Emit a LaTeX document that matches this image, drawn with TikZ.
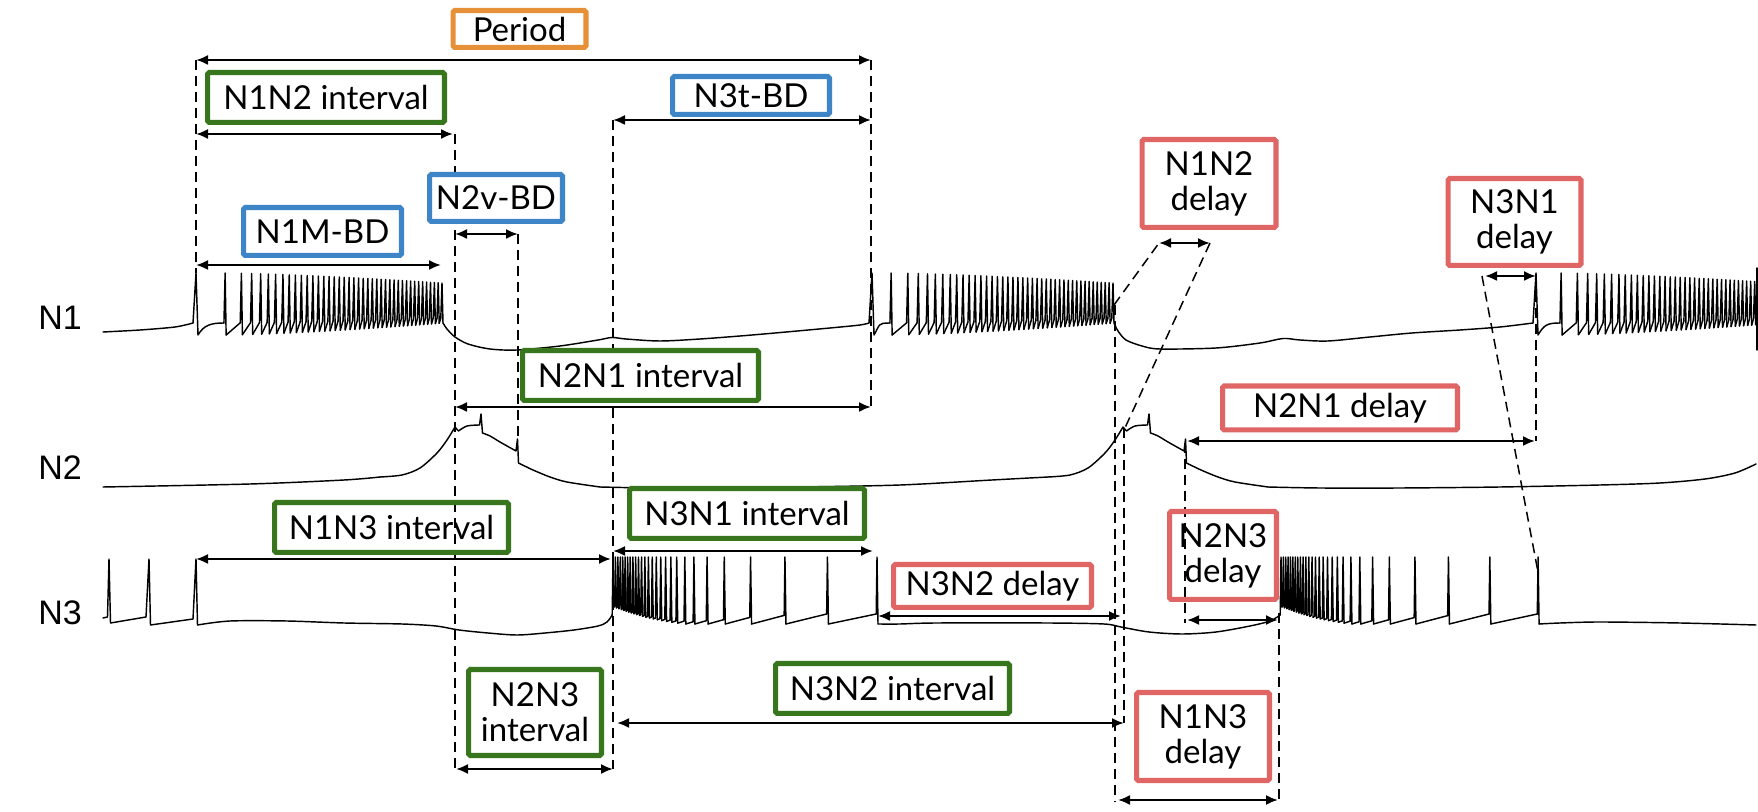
\documentclass[tikz,border=0pt]{standalone}
\usepackage{fontspec}
\setmainfont{Lato}
\newfontfamily\sanslabel{Liberation Sans}
\usetikzlibrary{arrows.meta}
\definecolor{grn}{HTML}{38761D}
\definecolor{blu}{HTML}{3D85C6}
\definecolor{salmon}{HTML}{E06666}
\definecolor{org}{HTML}{E69138}
\newcommand{\boxfont}{\fontsize{16.5pt}{17.5pt}\selectfont}
\newcommand{\chanfont}{\sanslabel\fontsize{17pt}{19pt}\selectfont}
\tikzset{
    trace/.style={line width=0.72pt, line join=round, line cap=round},
    guide/.style={line width=0.75pt, dash pattern=on 5pt off 3pt},
    span/.style={line width=1.05pt, arrows={Latex[length=6pt,width=5pt]-Latex[length=6pt,width=5pt]}},
    box/.style={draw=#1, line width=2.6pt, rounded corners=0.8pt, fill=white, inner sep=0pt, align=center, font=\boxfont},
    boxwh/.style 2 args={minimum width={#1*0.5pt-2.6pt}, minimum height={#2*0.5pt-2.6pt}},
    chan/.style={font=\chanfont, inner sep=0pt},
  }
% N1 burst: onset spike, start of train, length of train, last spike index
\newcommand{\nonetrain}[4]{%
  \draw[trace] (#1-3,323) -- (#1,273) -- (#1+2,335) .. controls (#1+8,325) and (#2-14,323) .. (#2-1.2,323);
  \foreach \k in {0,...,#4}{
    \pgfmathsetmacro\xs{#2+#3*(max(\k,0.001)/40)^0.7}
    \pgfmathsetmacro\xn{#2+#3*((\k+1)/40)^0.7}
    \pgfmathsetmacro\ytop{273+10*\k/40}
    \pgfmathsetmacro\ypre{323-5*\k/40}
    \pgfmathsetmacro\yprn{323-5*(\k+1)/40}
    \pgfmathsetmacro\ytro{335-12*\k/40}
    \draw[trace] (\xs-1.2,\ypre) -- (\xs,\ytop) -- (\xs+1,\ytro);
    \ifnum\k<#4 \draw[trace] (\xs+1,\ytro) -- (\xn-1.2,\yprn); \fi
  }}
% N3 burst: onset, stretch of the spike times
\newcommand{\nthreetrain}[2]{%
  \foreach \o [count=\j from 0, remember=\o as \op (initially -3)] in {0,2.4,4.8,7.2,9.6,12,14.5,17,19.7,22.4,25.2,28.2,31.5,35,38.8,42.8,47.2,52,57.2,63,71,80,93,110,136,170,212,261}{
    \pgfmathsetmacro\xs{#1+#2*\o}
    \pgfmathsetmacro\xp{#1+#2*\op}
    \pgfmathsetmacro\ytro{607+17*min(\j,20)/20}
    \pgfmathsetmacro\ytrp{607+17*min(max(\j-1,0),20)/20}
    \pgfmathsetmacro\ypre{\ytrp-min(\xs-\xp,40)/4}
    \ifnum\j=0 \def\ypre{615}\fi
    \ifnum\j>0 \draw[trace] (\xp+1,\ytrp) -- (\xs-0.8,\ypre); \fi
    \draw[trace] (\xs-0.8,\ypre) -- (\xs,557) -- (\xs+1,\ytro);
  }}
% N2 plateau, drawn at the first cycle
\newcommand{\ntwoplateau}{%
  \draw[trace] plot[smooth] coordinates {(380,477) (402,475) (420,468) (437,453) (447,440) (455,427)}
    -- (458.5,431)
    -- plot[smooth] coordinates {(458.5,431) (467,426) (479.5,425)}
    -- (481,414) -- (482.5,433)
    -- plot[smooth] coordinates {(482.5,433) (490,436) (500,442) (516,451)}
    -- (517.5,439) -- (518.5,463)
    -- plot[smooth] coordinates {(518.5,463) (533,470) (550,477) (567,482) (600,487)};}

\begin{document}
\begin{tikzpicture}[x=0.5pt,y=-0.5pt]
\fill[white] (0,0) rectangle (1758,812);
\useasboundingbox (0,0) rectangle (1758,812);

% traces
\draw[trace] plot[smooth] coordinates {(103,332) (140,330) (175,327) (193,323)};
\nonetrain{196}{225}{217}{40}
\draw[trace] plot[smooth] coordinates {(443,323) (447,329) (455,337) (468,344) (490,349) (517,350) (560,346) (598,340) (612,337.5) (626,339) (660,341) (700,339) (740,336) (775,333) (830,328) (860,325) (869,323)};
\nonetrain{872}{891}{222}{40}
\draw[trace] plot[smooth] coordinates {(1114,323) (1118,331) (1126,340) (1142,346) (1160,349) (1216,348) (1260,343) (1283,338.5) (1300,340) (1328,341) (1370,337) (1412,333) (1460,330) (1500,327) (1533,323)};
\nonetrain{1536}{1561}{217}{34}
\draw[trace] (1757,268) -- (1757,350);

\draw[trace] plot[smooth] coordinates {(103,487) (250,484) (344,480) (380,477)};
\ntwoplateau
\draw[trace] plot[smooth] coordinates {(600,487) (650,488) (700,488) (800,487) (900,485) (992,480) (1048,477)};
\begin{scope}[shift={(668,0)}]
  \ntwoplateau
\end{scope}
\draw[trace] plot[smooth] coordinates {(1268,487) (1320,488) (1400,488) (1500,487) (1600,485) (1660,483) (1705,479) (1735,473) (1756,464)};

\draw[trace] (103,618) -- (107.5,617) -- (109,559) -- (110.5,623) -- (146,617) -- (149,559) -- (150.5,625) -- (193,619) -- (196,559) -- (197.5,625)
  -- plot[smooth] coordinates {(197.5,625) (230,621) (287,621) (344,623) (402,624) (436,626) (459,630) (488,633) (517,635) (545,633) (574,630) (598,626) (607,622) (612.2,615)};
\nthreetrain{613}{1.0115}
\draw[trace] plot[smooth] coordinates {(878,624) (900,624) (936,623) (1048,623) (1104,624) (1121,627) (1149,632) (1182,634) (1216,632) (1250,626) (1270,621) (1280.2,615)};
\nthreetrain{1281}{0.985}
\draw[trace] plot[smooth] coordinates {(1539.1,624) (1560,623) (1600,622) (1680,623) (1756,625)};

% guides
\foreach \nm/\xa/\ya/\xb/\yb in {g1/196/60/196/273, g2/455/134/455/769, g3/518/234/518/440,
    g4/613/120/613/769, g5/871/60/871/407, g6/1115/305/1115/802, g7/1124/428/1124/723,
    g8/1114/305/1159/243, g9/1210/243/1124/430, g10/1185/443/1185/623, g11/1279/613/1279/803,
    g12/1482/276/1538/572, g13/1536/276/1536/441}{
  \coordinate (\nm-a) at (\xa,\ya);
  \coordinate (\nm-b) at (\xb,\yb);
  \draw[guide] (\nm-a) -- (\nm-b);
}

% labels
\node[chan] (lab1) at (60,318) {N1};
\node[chan] (lab2) at (60,468) {N2};
\node[chan] (lab3) at (60,613) {N3};

\node[box=org, boxwh={138}{42}] (per) at (519.5,29) {Period};
\node[box=grn, boxwh={242}{55}] (n1n2i) at (326,97.5) {N1N2 interval};
\node[box=blu, boxwh={162}{43}] (n3tbd) at (751,95.5) {N3t-BD};
\node[box=blu, boxwh={138}{52}] (n2vbd) at (496,198) {N2v-BD};
\node[box=blu, boxwh={163}{53}] (n1mbd) at (322.5,231.5) {N1M-BD};
\node[box=grn, boxwh={241}{55}] (n2n1i) at (640.5,375.5) {N2N1 interval};
\node[box=grn, boxwh={239}{55}, fill=none] (n1n3i) at (391.5,527.5) {N1N3 interval};
\node[box=grn, boxwh={240}{55}] (n3n1i) at (747,513.5) {N3N1 interval};
\node[box=grn, boxwh={138}{91}] (n2n3i) at (535,712.5) {N2N3\\interval};
\node[box=grn, boxwh={239}{55}] (n3n2i) at (892.5,688.5) {N3N2 interval};
\node[box=salmon, boxwh={203}{48}] (n3n2d) at (992.5,586) {N3N2 delay};
\node[box=salmon, boxwh={139}{93}] (n1n2d) at (1209,183.5) {N1N2\\delay};
\node[box=salmon, boxwh={138}{92}] (n3n1d) at (1514.5,222) {N3N1\\delay};
\node[box=salmon, boxwh={240}{49}] (n2n1d) at (1340,408) {N2N1 delay};
\node[box=salmon, boxwh={112}{93}, fill=none] (n2n3d) at (1223,555.5) {N2N3\\delay};
\node[box=salmon, boxwh={138}{93}] (n1n3d) at (1203,736.5) {N1N3\\delay};

% spans
\foreach \nm/\xa/\xb/\yy in {per/196/871/60, n1n2i/196/453/134, n3tbd/613/871/120,
    n2vbd/455/518/234, n1mbd/196/441/265, n2n1i/455/871/407, n1n3i/196/611/559,
    n3n1i/613/873/551, n2n3i/456/613/769, n3n2i/617/1124/723, n3n2d/878/1121/616,
    n1n2d/1159/1210/243, n3n1d/1485/1536/276, n2n1d/1187/1535/441, n2n3d/1187/1278/620,
    n1n3d/1118/1278/800}{
  \coordinate (\nm-l) at (\xa,\yy);
  \coordinate (\nm-r) at (\xb,\yy);
  \draw[span] (\nm-l) -- (\nm-r);
}
\end{tikzpicture}
\end{document}
